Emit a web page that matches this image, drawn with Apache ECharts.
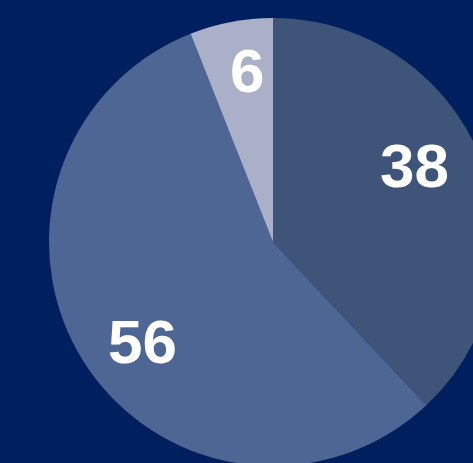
<!DOCTYPE html>
<html>
<head>
<meta charset="utf-8">
<script src="https://cdn.jsdelivr.net/npm/echarts@6/dist/echarts.min.js"></script>
<style>
  html, body { margin: 0; padding: 0; background: #001f5f; }
  #chart { width: 473px; height: 463px; }
</style>
</head>
<body>
<div id="chart"></div>
<script>
const categories = ['A', 'B', 'C']
const values = [38, 56, 6]
const colors = ['#3f5479', '#4d6694', '#a9b0c7']
// small nudges so labels sit where the original placed them
const labelOffsets = [[-11, -12], [8, 16], [5, -6]]

const chart = echarts.init(document.getElementById('chart'))

const pieData = categories.map((name, i) => ({
    name,
    value: values[i],
    itemStyle: { color: colors[i] }
}))

chart.setOption({
    backgroundColor: '#001f5f',
    animation: false,
    series: [
        {
            type: 'pie',
            center: [273, 242],
            radius: 224,
            startAngle: 90,
            clockwise: true,
            silent: true,
            label: { show: false },
            labelLine: { show: false },
            data: pieData
        },
        {
            // label ring only, pushes labels outward
            type: 'pie',
            center: [273, 242],
            radius: [98, 224],
            startAngle: 90,
            clockwise: true,
            silent: true,
            itemStyle: { color: 'transparent' },
            label: {
                show: true,
                position: 'inside',
                formatter: '{c}',
                color: '#ffffff',
                fontFamily: 'Liberation Sans, Arial, sans-serif',
                fontWeight: 'bold',
                fontSize: 62
            },
            labelLine: { show: false },
            data: categories.map((name, i) => ({
                name,
                value: values[i],
                label: { offset: labelOffsets[i] }
            }))
        }
    ]
})
</script>
</body>
</html>
